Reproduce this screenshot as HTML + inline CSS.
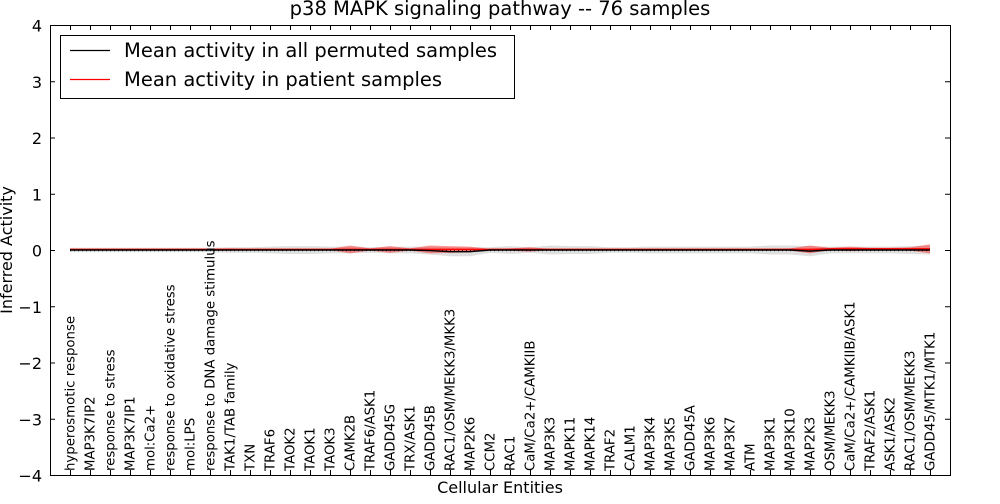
<!DOCTYPE html>
<html><head><meta charset="utf-8"><style>
body{margin:0;background:#fff;font-family:"DejaVu Sans","Liberation Sans",sans-serif}
</style></head><body>
<svg id="chart" width="1000" height="500" xmlns="http://www.w3.org/2000/svg" font-family="DejaVu Sans, Liberation Sans, sans-serif">
<text x="500" y="15" text-anchor="middle" font-size="19.5">p38 MAPK signaling pathway -- 76 samples</text>
<g id="plot"></g>
</svg>
<script>
const categories=["hyperosmotic response","MAP3K7IP2","response to stress","MAP3K7IP1","mol:Ca2+","response to oxidative stress","mol:LPS","response to DNA damage stimulus","TAK1/TAB family","TXN","TRAF6","TAOK2","TAOK1","TAOK3","CAMK2B","TRAF6/ASK1","GADD45G","TRX/ASK1","GADD45B","RAC1/OSM/MEKK3/MKK3","MAP2K6","CCM2","RAC1","CaM/Ca2+/CAMKIIB","MAP3K3","MAPK11","MAPK14","TRAF2","CALM1","MAP3K4","MAP3K5","GADD45A","MAP3K6","MAP3K7","ATM","MAP3K1","MAP3K10","MAP2K3","OSM/MEKK3","CaM/Ca2+/CAMKIIB/ASK1","TRAF2/ASK1","ASK1/ASK2","RAC1/OSM/MEKK3","GADD45/MTK1/MTK1"];
const permMean=[0,0,0,0,0,0,0,0,0,0,0,0,0,0,0,0,0,0,-0.01,-0.03,-0.03,0,0,0,0,0,0,0,0,0,0,0,0,0,0,0,0,-0.02,0,0,0,0,0,0];
const permSpread=[0.04,0.04,0.04,0.04,0.04,0.04,0.04,0.04,0.05,0.05,0.06,0.07,0.07,0.06,0.06,0.05,0.06,0.06,0.07,0.08,0.08,0.05,0.07,0.05,0.08,0.07,0.07,0.05,0.05,0.06,0.06,0.06,0.06,0.06,0.06,0.08,0.08,0.09,0.06,0.06,0.06,0.06,0.07,0.08];
const patientMean=[0.01,0.01,0.01,0.01,0.01,0.01,0.01,0.01,0.01,0.01,0.01,0.01,0.01,0.01,0.01,0.01,0.01,0.01,0.01,0.01,0.01,0.01,0.01,0.01,0.01,0.01,0.01,0.01,0.01,0.01,0.01,0.01,0.01,0.01,0.01,0.01,0.01,0.01,0.02,0.02,0.02,0.02,0.02,0.02];
const patientSpread=[0.01,0.01,0.01,0.01,0.01,0.01,0.01,0.01,0.02,0.01,0.01,0.01,0.01,0.01,0.07,0.02,0.06,0.02,0.07,0.06,0.05,0.01,0.02,0.04,0.01,0.01,0.01,0.01,0.01,0.01,0.01,0.01,0.01,0.01,0.01,0.01,0.02,0.07,0.02,0.04,0.02,0.02,0.03,0.08];
const yTicks=[-4,-3,-2,-1,0,1,2,3,4];
const L=50,R=950,T=25,B=475;
const xs=i=>70+i*(860/(categories.length-1));
const ys=v=>250-v*56.25;
const NS="http://www.w3.org/2000/svg";
const g=document.getElementById('plot');
function mk(t,a,p){const e=document.createElementNS(NS,t);for(const k in a)e.setAttribute(k,a[k]);(p||g).appendChild(e);return e;}
function band(mean,spr,fill,op,name){let up=mean.map((m,i)=>xs(i)+','+ys(m+spr[i]));let dn=mean.map((m,i)=>xs(i)+','+ys(m-spr[i])).reverse();
const e=mk('polygon',{points:up.concat(dn).join(' '),fill:fill,'fill-opacity':op});

}
band(permMean,permSpread,'#b8b8b8',0.45,'permuted-band');
band(patientMean,patientSpread,'#ff0000',0.4,'patient-band');
let z=mk('line',{x1:xs(0),x2:xs(categories.length-1),y1:ys(0)+0.5,y2:ys(0)+0.5,stroke:'#000','stroke-dasharray':'1,3','stroke-width':1.2});


let pl=mk('polyline',{points:patientMean.map((m,i)=>xs(i)+','+ys(m)).join(' '),fill:'none',stroke:'#ff0000','stroke-width':1.6});


let bl=mk('polyline',{points:permMean.map((m,i)=>xs(i)+','+ys(m)).join(' '),fill:'none',stroke:'#000','stroke-width':1.4});


let fr=mk('rect',{x:L+0.5,y:T+0.5,width:R-L,height:B-T,fill:'none',stroke:'#000','stroke-width':1});


yTicks.forEach(v=>{const y=ys(v)+0.5;
mk('line',{x1:L,x2:L+5,y1:y,y2:y,stroke:'#000'});mk('line',{x1:R-5,x2:R,y1:y,y2:y,stroke:'#000'});
const t=mk('text',{x:L-8,y:y+6,'text-anchor':'end','font-size':16});t.textContent=(v<0?'\u2212':'')+Math.abs(v);

});
categories.forEach((c,i)=>{const x=xs(i)+0.5;
mk('line',{x1:x,x2:x,y1:B,y2:B-5,stroke:'#000'});mk('line',{x1:x,x2:x,y1:T,y2:T+5,stroke:'#000'});
const t=mk('text',{transform:`translate(${x+4},471) rotate(-90)`,'font-size':13.3});t.textContent=c;

});
const yl=mk('text',{transform:'translate(12,250) rotate(-90)','text-anchor':'middle','font-size':16});yl.textContent='Inferred Activity';


const xl=mk('text',{x:500,y:493,'text-anchor':'middle','font-size':16});xl.textContent='Cellular Entities';


const lg=mk('g',{});


mk('rect',{x:60.5,y:35.5,width:454,height:63,fill:'#fff',stroke:'#000'},lg);
mk('line',{x1:70,x2:110,y1:50.5,y2:50.5,stroke:'#000','stroke-width':1.3},lg);
mk('line',{x1:70,x2:110,y1:79.5,y2:79.5,stroke:'#ff0000','stroke-width':1.3},lg);
const l1=mk('text',{x:124,y:57,'font-size':19.5},lg);l1.textContent='Mean activity in all permuted samples';


const l2=mk('text',{x:124,y:86,'font-size':19.5},lg);l2.textContent='Mean activity in patient samples';


</script>
</body></html>
